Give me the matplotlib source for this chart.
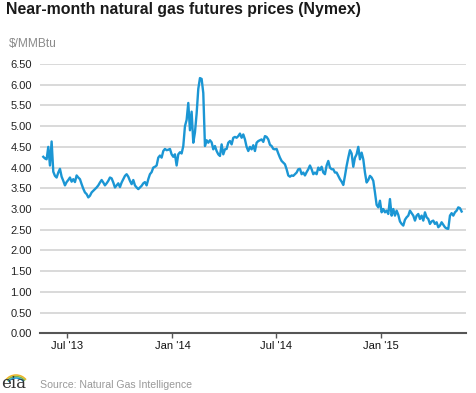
import matplotlib
matplotlib.use("Agg")
import matplotlib.pyplot as plt
from matplotlib.patches import Arc
import pandas as pd

plt.rcParams['font.family'] = ['Liberation Sans', 'DejaVu Sans']

start_date = "2013-05-20"
step = "70h"
prices = [
    4.26, 4.22, 4.20, 4.50, 4.05, 4.63, 3.90, 3.80, 3.76, 3.88,
    3.97, 3.78, 3.68, 3.57, 3.65, 3.70, 3.76, 3.66, 3.72, 3.65,
    3.81, 3.76, 3.72, 3.60, 3.49, 3.40, 3.36, 3.28, 3.32, 3.40,
    3.44, 3.48, 3.52, 3.57, 3.64, 3.70, 3.64, 3.57, 3.62, 3.68,
    3.76, 3.74, 3.64, 3.52, 3.57, 3.62, 3.53, 3.64, 3.72, 3.80,
    3.84, 3.78, 3.68, 3.60, 3.70, 3.57, 3.52, 3.48, 3.52, 3.56,
    3.62, 3.65, 3.57, 3.72, 3.84, 3.89, 4.00, 4.02, 4.05, 4.24,
    4.29, 4.24, 4.40, 4.45, 4.42, 4.43, 4.45, 4.32, 4.26, 4.32,
    4.05, 4.32, 4.37, 4.34, 4.52, 5.00, 5.15, 5.56, 4.90, 5.35,
    4.60, 4.85, 5.30, 5.90, 6.16, 6.14,
    5.80, 4.52, 4.66, 4.60, 4.66, 4.61, 4.44, 4.52, 4.40, 4.32,
    4.28, 4.56, 4.32, 4.44, 4.45, 4.60, 4.64, 4.56, 4.72, 4.74,
    4.72, 4.76, 4.82, 4.72, 4.80, 4.68, 4.50, 4.40, 4.50, 4.44,
    4.54, 4.40, 4.60, 4.64, 4.66, 4.68, 4.62, 4.76, 4.74, 4.68,
    4.55, 4.52, 4.45, 4.44, 4.45, 4.34, 4.24, 4.16, 4.12, 4.08,
    3.96, 3.81, 3.78, 3.81, 3.80, 3.84, 3.88, 3.96, 3.97, 3.84,
    3.88, 3.81, 3.89, 3.96, 4.05, 3.96, 3.84, 3.88, 3.84, 4.00,
    3.94, 4.02, 3.88, 3.84, 4.05, 4.16, 4.00, 3.96, 3.96, 3.88,
    3.88, 3.80, 3.72, 3.66, 3.58, 3.80, 4.04, 4.24, 4.42, 4.34,
    4.02, 4.24, 4.32, 4.50, 4.20, 4.36, 4.20, 3.88, 3.64, 3.70,
    3.80, 3.76, 3.68, 3.40, 3.10, 3.04, 3.20, 2.92, 3.00, 2.92,
    2.96, 2.88, 3.24, 2.84, 3.00, 2.84, 2.96, 2.86, 2.70, 2.64,
    2.60, 2.74, 2.80, 2.84, 2.96, 2.90, 2.84, 2.72, 2.84, 2.88,
    2.76, 2.84, 2.72, 2.92, 2.80, 2.76, 2.64, 2.70, 2.72, 2.64,
    2.68, 2.56, 2.60, 2.68, 2.62, 2.56, 2.53, 2.52, 2.84, 2.90,
    2.84, 2.92, 2.96, 3.04, 3.02, 2.94,
]
dates = pd.date_range(start=start_date, periods=len(prices), freq=step)

y_ticks = [0.0, 0.5, 1.0, 1.5, 2.0, 2.5, 3.0, 3.5, 4.0, 4.5, 5.0, 5.5, 6.0, 6.5]
x_tick_dates = ["2013-07-01", "2014-01-01", "2014-07-01", "2015-01-01"]
x_tick_labels = ["Jul '13", "Jan '14", "Jul '14", "Jan '15"]
x_range = ["2013-05-14 06:00", "2015-05-29 18:00"]

title = "Near-month natural gas futures prices (Nymex)"
unit = "$/MMBtu"
source = "Source: Natural Gas Intelligence"

# ---- figure ----
W, H = 477, 393
fig = plt.figure(figsize=(W / 100, H / 100), dpi=100)
ax = fig.add_axes([40 / W, (H - 333.3) / H, (466 - 40) / W, (333.3 - 64) / H])

ax.plot(dates, prices, color="#1b96d4", lw=1.7, solid_joinstyle="round", zorder=3, clip_on=False)

ax.set_ylim(0, 6.5)
ax.set_xlim(pd.Timestamp(x_range[0]), pd.Timestamp(x_range[1]))
ax.set_yticks(y_ticks)
ax.set_yticklabels([f"{v:.2f}" for v in y_ticks])
ax.set_xticks([pd.Timestamp(d) for d in x_tick_dates])
ax.set_xticklabels(x_tick_labels)

for v in y_ticks[1:]:
    ax.axhline(v, color="#d9d9d9", lw=1.4, zorder=1)
ax.axhline(0, color="#555555", lw=1.5, zorder=2, clip_on=False)

for s in ax.spines.values():
    s.set_visible(False)

ax.tick_params(axis="y", length=0, pad=6, labelsize=8, labelcolor="#222222")
ax.tick_params(axis="x", length=3.5, width=1, color="#555555", pad=2,
               labelsize=8, labelcolor="#111111")

fig.text(6 / W, 1 - 9.5 / H, title, fontsize=11.4, fontweight="bold",
         color="#1a1a1a", ha="left", va="center")
fig.text(9 / W, 1 - 43.5 / H, unit, fontsize=8.6, color="#8a8a8a",
         ha="left", va="center")
fig.text(40 / W, 1 - 385 / H, source, fontsize=7.6, color="#999999",
         ha="left", va="center")

# eia logo
fig.text(1.5 / W, 1 - 384 / H, "eia", fontsize=12, family="DejaVu Serif",
         color="#333333", ha="left", va="center")
for col, r in [("#f0b323", 13), ("#7ab648", 11.5), ("#1b96d4", 10)]:
    fig.patches.append(Arc((16 / W, 1 - 388 / H), 2 * r / W, 2 * r / H,
                           theta1=45, theta2=135, color=col, lw=1.1,
                           transform=fig.transFigure))

fig.savefig("out.png", dpi=100)
